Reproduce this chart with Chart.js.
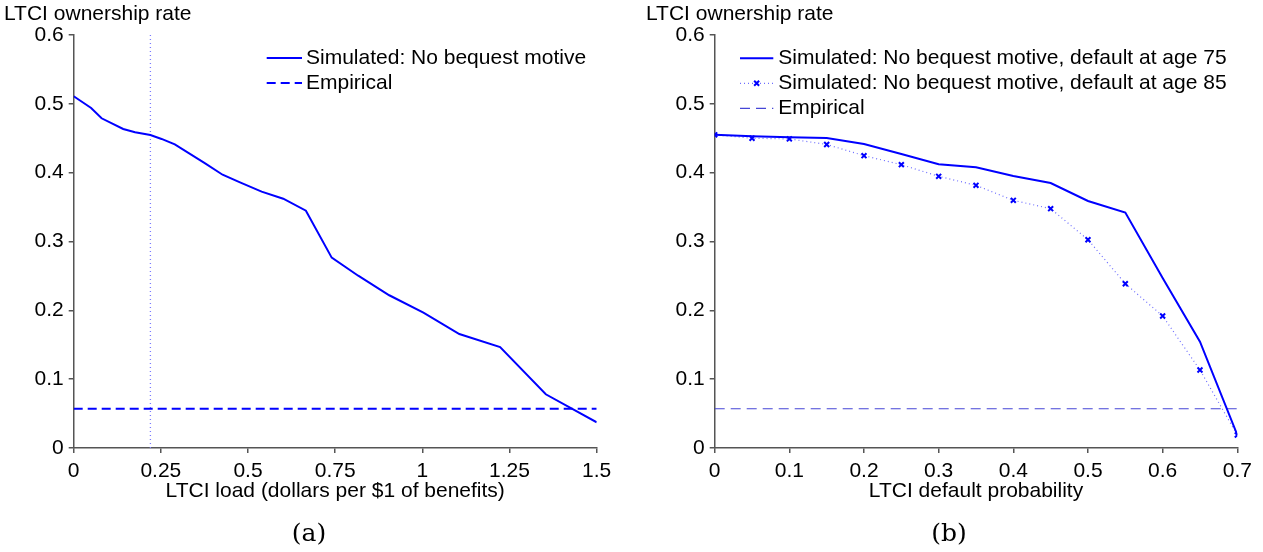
<!DOCTYPE html>
<html><head><meta charset="utf-8">
<script src="https://cdn.jsdelivr.net/npm/chart.js@4/dist/chart.umd.min.js"></script>
<style>
html,body{margin:0;padding:0;background:#fff;overflow:hidden;}
#wrapA{position:absolute;left:0;top:0;width:640px;height:552px;}
#wrapB{position:absolute;left:640px;top:0;width:623px;height:552px;}
</style></head><body>
<div id="wrapA"><canvas id="chartA"></canvas></div>
<div id="wrapB"><canvas id="chartB"></canvas></div>
<script>
// ---------- data ----------
const loadA = [0, 0.05, 0.08, 0.142, 0.176, 0.22, 0.252, 0.29, 0.377, 0.427, 0.477, 0.539, 0.601, 0.666, 0.74, 0.816, 0.905, 1.003, 1.106, 1.223, 1.354, 1.5];
const simNoBequestA = [0.511, 0.494, 0.479, 0.4635, 0.4587, 0.4547, 0.449, 0.441, 0.4136, 0.397, 0.386, 0.3725, 0.3622, 0.3448, 0.2765, 0.2503, 0.2219, 0.1966, 0.1656, 0.1467, 0.078, 0.0373];
const empiricalRate = 0.057;
const observedLoad = 0.22;
const xTicksA = [0, 0.25, 0.5, 0.75, 1, 1.25, 1.5];

const probB = [0, 0.05, 0.1, 0.15, 0.2, 0.25, 0.3, 0.35, 0.4, 0.45, 0.5, 0.55, 0.6, 0.65, 0.7];
const sim75B = [0.455, 0.4529, 0.4514, 0.4504, 0.4417, 0.4271, 0.4122, 0.4078, 0.3952, 0.385, 0.3589, 0.342, 0.247, 0.1545, 0.0189];
const sim85B = [0.455, 0.450, 0.449, 0.441, 0.4247, 0.4116, 0.3947, 0.3816, 0.3598, 0.3477, 0.3026, 0.2387, 0.1918, 0.1133, 0.0189];
const xTicksB = [0, 0.1, 0.2, 0.3, 0.4, 0.5, 0.6, 0.7];

const yTicks = [0, 0.1, 0.2, 0.3, 0.4, 0.5, 0.6];

const labelsA = ['Simulated: No bequest motive', 'Empirical'];
const labelsB = ['Simulated: No bequest motive, default at age 75', 'Simulated: No bequest motive, default at age 85', 'Empirical'];
const yTitle = 'LTCI ownership rate';
const xTitleA = 'LTCI load (dollars per $1 of benefits)';
const xTitleB = 'LTCI default probability';
const captionA = '(a)';
const captionB = '(b)';

// ---------- styling ----------
const FONT = '"Liberation Sans", Arial, Helvetica, sans-serif';
Chart.defaults.font.family = FONT;
Chart.defaults.font.size = 21;
Chart.defaults.color = '#000';
const AXIS = '#555555';

const xy = (xs, ys) => xs.map((x, i) => ({x: x, y: ys[i]}));

const insideLegend = {
  id: 'insideLegend',
  afterDraw(chart, args, opts) {
    const ctx = chart.ctx;
    ctx.save();
    ctx.font = '21px ' + FONT;
    ctx.textBaseline = 'middle';
    ctx.textAlign = 'left';
    ctx.fillStyle = '#000';
    opts.items.forEach((dsIndex, i) => {
      const ds = chart.data.datasets[dsIndex];
      const y = opts.y + i * opts.rowH;
      ctx.save();
      ctx.strokeStyle = ds.borderColor;
      ctx.lineWidth = ds.borderWidth;
      ctx.setLineDash(ds.borderDash || []);
      ctx.beginPath(); ctx.moveTo(opts.x0, y); ctx.lineTo(opts.x1, y); ctx.stroke();
      ctx.restore();
      if (ds.pointRadius > 0) {
        const cx = (opts.x0 + opts.x1) / 2;
        const d = ds.pointRadius * Math.SQRT1_2;
        ctx.save();
        ctx.strokeStyle = ds.pointBorderColor;
        ctx.lineWidth = ds.pointBorderWidth;
        ctx.beginPath();
        ctx.moveTo(cx - d, y - d); ctx.lineTo(cx + d, y + d);
        ctx.moveTo(cx - d, y + d); ctx.lineTo(cx + d, y - d);
        ctx.stroke();
        ctx.restore();
      }
      ctx.fillText(ds.label, opts.tx, y);
    });
    ctx.font = '25px "DejaVu Serif", "Liberation Serif", serif';
    ctx.textAlign = 'center';
    ctx.fillText(opts.caption, opts.cx, opts.cy);
    ctx.restore();
  }
};

function yScale(w) {
  return {
    type: 'linear', min: 0, max: 0.6,
    afterBuildTicks: s => { s.ticks = yTicks.map(v => ({value: v})); },
    afterFit: s => { s.width = w; },
    ticks: {padding: 5, color: '#000', font: {size: 21}, callback: v => String(v)},
    grid: {display: true, drawOnChartArea: false, drawTicks: true, tickLength: 5, color: AXIS, lineWidth: 1.5},
    border: {display: true, color: AXIS, width: 1.5}
  };
}
function xScale(maxV, ticksArr, title) {
  return {
    type: 'linear', min: 0, max: maxV,
    afterBuildTicks: s => { s.ticks = ticksArr.map(v => ({value: v})); },
    afterFit: s => { s.height = 55.5; },
    ticks: {padding: 6, color: '#000', font: {size: 21}, maxRotation: 0, callback: v => String(v)},
    title: {display: true, text: title, color: '#000', font: {size: 21}, padding: {top: 0, bottom: 0}},
    grid: {display: true, drawOnChartArea: false, drawTicks: true, tickLength: 5, color: AXIS, lineWidth: 1.5},
    border: {display: true, color: AXIS, width: 1.5}
  };
}
function titleOpts() {
  return {display: true, text: yTitle, align: 'start', color: '#000', font: {size: 21, weight: 'normal'}, padding: {top: 1.4, bottom: 8.4}};
}

new Chart(document.getElementById('chartA'), {
  type: 'line',
  data: {
    datasets: [
      {label: labelsA[0], data: xy(loadA, simNoBequestA), borderColor: '#0000ff', borderWidth: 2, pointRadius: 0, tension: 0, fill: false},
      {label: labelsA[1], data: xy([xTicksA[0], xTicksA[xTicksA.length - 1]], [empiricalRate, empiricalRate]), borderColor: '#0000ff', borderWidth: 2, borderDash: [9, 5], pointRadius: 0, fill: false},
      {label: 'observed load', data: xy([observedLoad, observedLoad], [yTicks[0], yTicks[yTicks.length - 1]]), borderColor: '#7b7bff', borderWidth: 1.3, borderDash: [1, 3], pointRadius: 0, fill: false}
    ]
  },
  options: {
    responsive: true, maintainAspectRatio: false, animation: false,
    layout: {padding: {left: 4, top: 0, right: 43.3, bottom: 48.5}},
    scales: {x: xScale(1.5, xTicksA, xTitleA), y: yScale(69.7)},
    plugins: {
      legend: {display: false}, tooltip: {enabled: false},
      title: titleOpts(),
      insideLegend: {items: [0, 1], x0: 266.7, x1: 302, tx: 306, y: 58, rowH: 25, caption: captionA, cx: 309, cy: 534}
    }
  },
  plugins: [insideLegend]
});

new Chart(document.getElementById('chartB'), {
  type: 'line',
  data: {
    datasets: [
      {label: labelsB[0], data: xy(probB, sim75B), borderColor: '#0000ff', borderWidth: 2, pointRadius: 0, tension: 0, fill: false},
      {label: labelsB[1], data: xy(probB, sim85B), borderColor: '#6e6eff', borderWidth: 1.2, borderDash: [1, 3], pointStyle: 'crossRot', pointRadius: 3.5, pointBorderWidth: 2, pointBorderColor: '#0000ff', pointBackgroundColor: '#0000ff', tension: 0, fill: false},
      {label: labelsB[2], data: xy([xTicksB[0], xTicksB[xTicksB.length - 1]], [empiricalRate, empiricalRate]), borderColor: '#4646d6', borderWidth: 1.2, borderDash: [10, 6], pointRadius: 0, fill: false}
    ]
  },
  options: {
    responsive: true, maintainAspectRatio: false, animation: false,
    layout: {padding: {left: 6, top: 0, right: 25.7, bottom: 48.5}},
    scales: {x: xScale(0.7, xTicksB, xTitleB), y: yScale(68.7)},
    plugins: {
      legend: {display: false}, tooltip: {enabled: false},
      title: titleOpts(),
      insideLegend: {items: [0, 1, 2], x0: 100, x1: 133.3, tx: 138.3, y: 58.3, rowH: 25, caption: captionB, cx: 309, cy: 534}
    }
  },
  plugins: [insideLegend]
});
</script>
</body></html>
